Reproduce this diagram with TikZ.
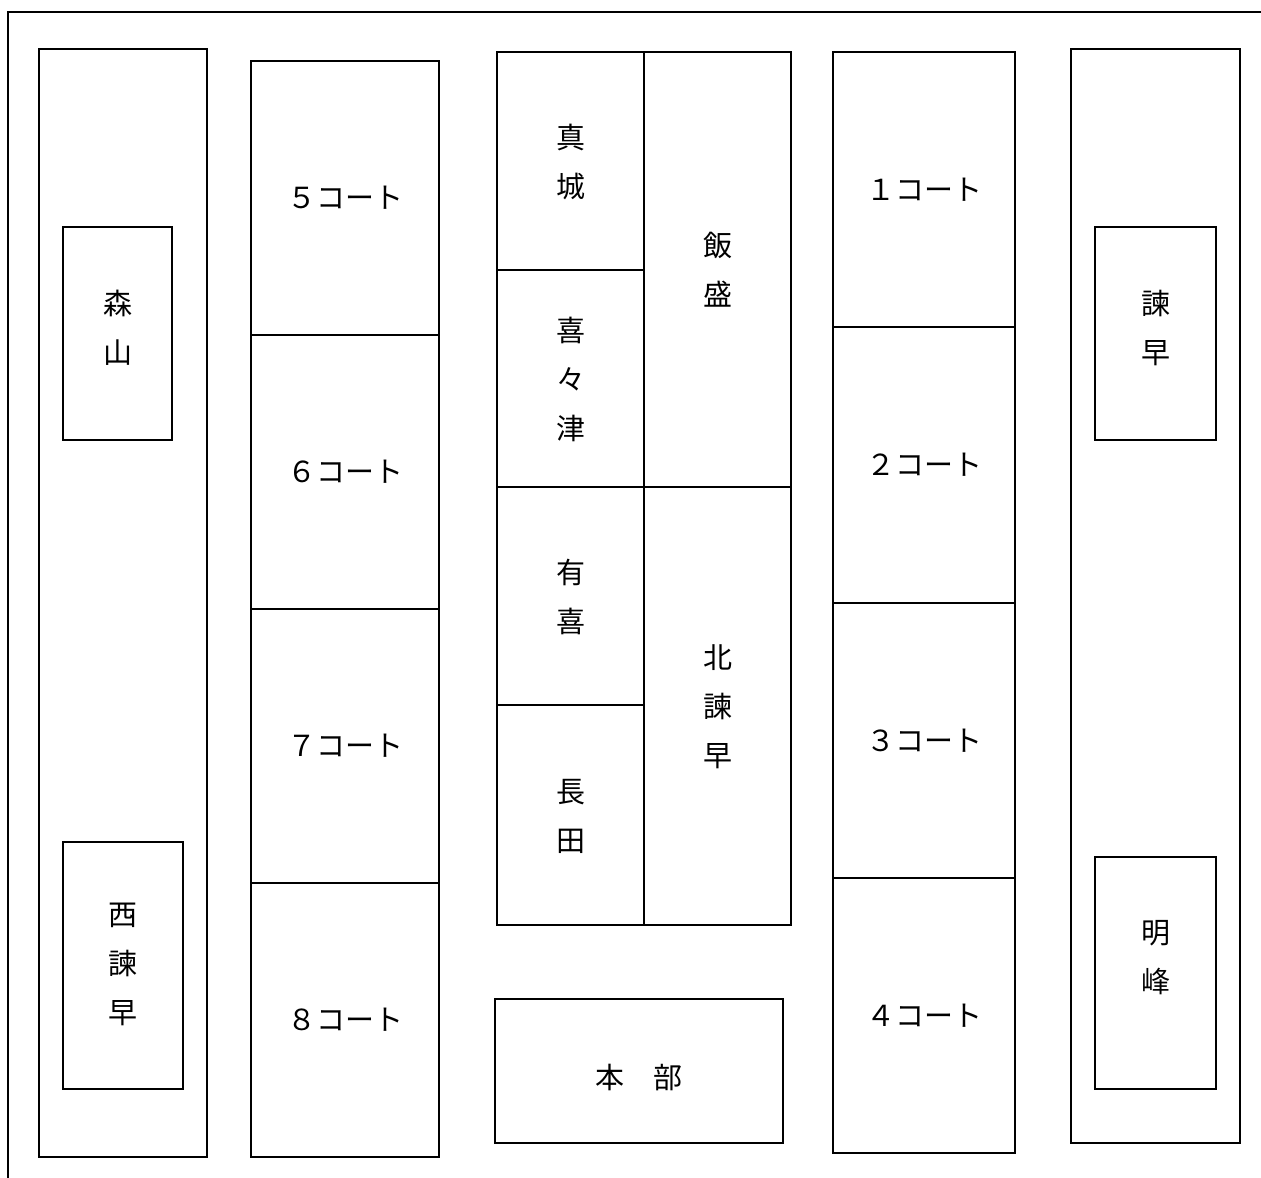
\documentclass[tikz,border=0pt]{standalone}
\usepackage{fontspec}
\newfontfamily\jpfont{Noto Sans CJK JP}
\begin{document}
\begin{tikzpicture}[x=1pt,y=-1pt,line width=1.5pt]
            \tikzstyle{every node}+=[inner sep=0pt,align=center,font=\jpfont\fontsize{29}{49}\selectfont]
                \useasboundingbox (0,0) rectangle (1261,1178);
                \draw [black] (8,1178) -- (8,12) -- (1261,12);
                % left side
                \draw [black] (39,49) rectangle (207,1157);
                \draw [black] (63,227) rectangle (172,440);
                \draw (117.5,328) node (moriyama) {森\\山};
                \draw [black] (63,842) rectangle (183,1089);
                \draw (123,964) node (nishiisahaya) {西\\諫\\早};
                % courts 5-8
                \draw [black] (251,61) rectangle (439,1157);
                \draw [black] (251,335) -- (439,335);
                \draw [black] (251,609) -- (439,609);
                \draw [black] (251,883) -- (439,883);
                \draw (345,198) node (c5) {５コート};
                \draw (345,472) node (c6) {６コート};
                \draw (345,746) node (c7) {７コート};
                \draw (345,1020) node (c8) {８コート};
                % middle block
                \draw [black] (497,52) rectangle (791,925);
                \draw [black] (644,52) -- (644,925);
                \draw [black] (497,270) -- (644,270);
                \draw [black] (497,487) -- (791,487);
                \draw [black] (497,705) -- (644,705);
                \draw (570.5,162) node (mashiro) {真\\城};
                \draw (570.5,379) node (kikitsu) {喜\\々\\津};
                \draw (570.5,597) node (yuki) {有\\喜};
                \draw (570.5,816) node (nagata) {長\\田};
                \draw (717.5,270) node (isahai) {飯\\盛};
                \draw (717.5,707) node (kitaisahaya) {北\\諫\\早};
                \draw [black] (495,999) rectangle (783,1143);
                \draw (639,1077) node (honbu) {本　部};
                % courts 1-4
                \draw [black] (833,52) rectangle (1015,1153);
                \draw [black] (833,327) -- (1015,327);
                \draw [black] (833,603) -- (1015,603);
                \draw [black] (833,878) -- (1015,878);
                \draw (924,190) node (c1) {１コート};
                \draw (924,465) node (c2) {２コート};
                \draw (924,741) node (c3) {３コート};
                \draw (924,1016) node (c4) {４コート};
                % right side
                \draw [black] (1071,49) rectangle (1240,1143);
                \draw [black] (1095,227) rectangle (1216,440);
                \draw (1155.5,328) node (isahaya) {諫\\早};
                \draw [black] (1095,857) rectangle (1216,1089);
                \draw (1155.5,958) node (meiho) {明\\峰};
            \end{tikzpicture}
\end{document}
